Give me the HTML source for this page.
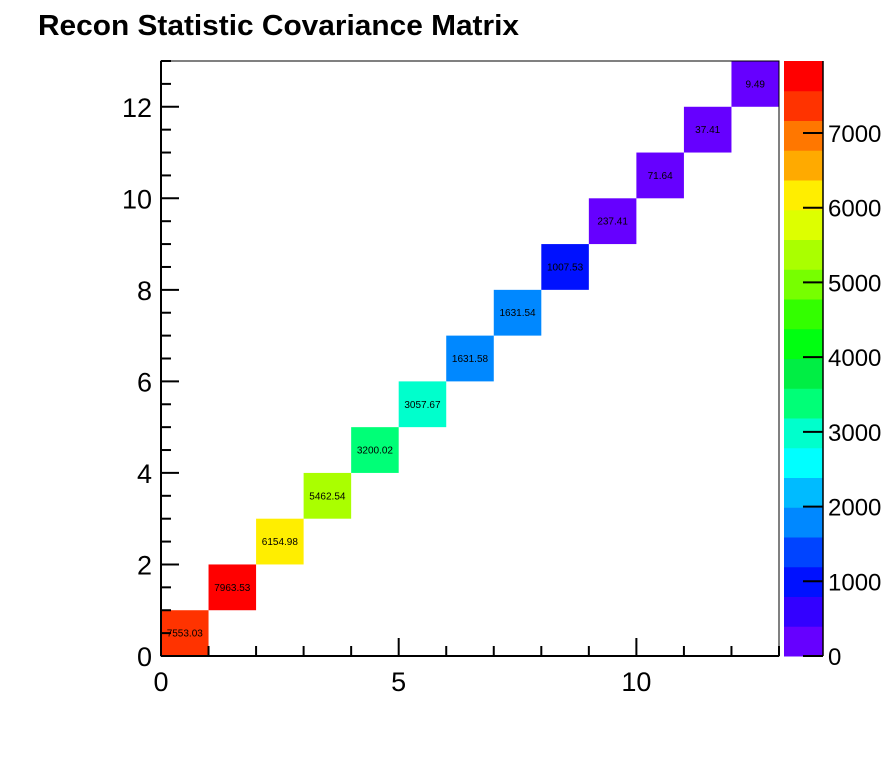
<!DOCTYPE html>
<html><head><meta charset="utf-8"><style>
body{margin:0;background:#fff;}
svg{display:block;font-family:"Liberation Sans",sans-serif;}
</style></head><body>
<svg id="c" width="896" height="772">
<rect width="896" height="772" fill="#fff"/>
<text x="38" y="35" font-size="29" font-weight="bold" textLength="481" lengthAdjust="spacingAndGlyphs">Recon Statistic Covariance Matrix</text>
<g id="cells"></g><g id="axes"></g><g id="pal"></g>
</svg>
<script>
const diagValues=[7553.03,7963.53,6154.98,5462.54,3200.02,3057.67,1631.58,1631.54,1007.53,237.41,71.64,37.41,9.49];
const diagLabels=["7553.03","7963.53","6154.98","5462.54","3200.02","3057.67","1631.58","1631.54","1007.53","237.41","71.64","37.41","9.49"];
const xTicks=[0,5,10];
const yTicks=[0,2,4,6,8,10,12];
const zTicks=[0,1000,2000,3000,4000,5000,6000,7000];
const paletteColors=["#6600ff","#3300ff","#0011ff","#0044ff","#0088ff","#00bbff","#00ffff","#00ffcc","#00ff77","#00ee44","#00ff11","#33ff00","#77ff00","#aaff00","#ddff00","#ffee00","#ffaa00","#ff7700","#ff3300","#ff0000"];
const NS="http://www.w3.org/2000/svg";
const X0=161,X1=779,Y0=656,Y1=61,N=13;
const zMax=Math.max(...diagValues);
const sx=v=>X0+(X1-X0)*v/N, sy=v=>Y0-(Y0-Y1)*v/N;
const sz=v=>Y0-(Y0-Y1)*v/zMax;
function mk(t,a,p){const e=document.createElementNS(NS,t);for(const k in a)e.setAttribute(k,a[k]);p.appendChild(e);return e;}
const cells=document.getElementById('cells'),axes=document.getElementById('axes'),pal=document.getElementById('pal');
const nc=paletteColors.length;
diagValues.forEach((v,i)=>{
 let b=Math.min(nc-1,Math.floor(v/zMax*nc));
 const r=mk('rect',{x:sx(i),y:sy(i+1),width:sx(i+1)-sx(i),height:sy(i)-sy(i+1),fill:paletteColors[b]},cells);
 
 
 const t=mk('text',{x:(sx(i)+sx(i+1))/2,y:(sy(i)+sy(i+1))/2+3.5,'font-size':10,'text-anchor':'middle'},cells);
 t.textContent=diagLabels[i];
 
 
});
const fr=mk('rect',{x:X0,y:Y1,width:X1-X0,height:Y0-Y1,fill:'none',stroke:'#000','stroke-width':1},axes);


mk('line',{x1:X0,y1:Y0,x2:X1,y2:Y0,stroke:'#000','stroke-width':2},axes);
mk('line',{x1:X0,y1:Y0,x2:X0,y2:Y1,stroke:'#000','stroke-width':2},axes);
for(let i=0;i<=N;i++){const x=sx(i);const L=(i%5==0)?18:10;mk('line',{x1:x,y1:Y0,x2:x,y2:Y0-L,stroke:'#000','stroke-width':2},axes);}
for(let i=0;i<=N*2;i++){const y=sy(i/2);const L=(i%4==0)?18:10;mk('line',{x1:X0,y1:y,x2:X0+L,y2:y,stroke:'#000','stroke-width':2},axes);}
xTicks.forEach(v=>{const t=mk('text',{x:sx(v),y:Y0+35,'font-size':27,'text-anchor':'middle'},axes);t.textContent=v;
 
 });
yTicks.forEach(v=>{const t=mk('text',{x:X0-9,y:sy(v)+10,'font-size':27,'text-anchor':'end'},axes);t.textContent=v;
 
 });
const PX0=784,PX1=823;
paletteColors.forEach((c,i)=>{const ya=Y0-(Y0-Y1)*i/nc,yb=Y0-(Y0-Y1)*(i+1)/nc;
 const r=mk('rect',{x:PX0,y:yb,width:PX1-PX0,height:ya-yb+0.5,fill:c},pal);
 
 });
mk('line',{x1:PX1,y1:Y1,x2:PX1,y2:Y0,stroke:'#000','stroke-width':1.5},pal);
zTicks.forEach(v=>{const y=sz(v);mk('line',{x1:PX1-20,y1:y,x2:PX1,y2:y,stroke:'#000','stroke-width':2},pal);
 const t=mk('text',{x:828,y:y+9,'font-size':24},pal);t.textContent=v;
 
 });
</script>
</body></html>
